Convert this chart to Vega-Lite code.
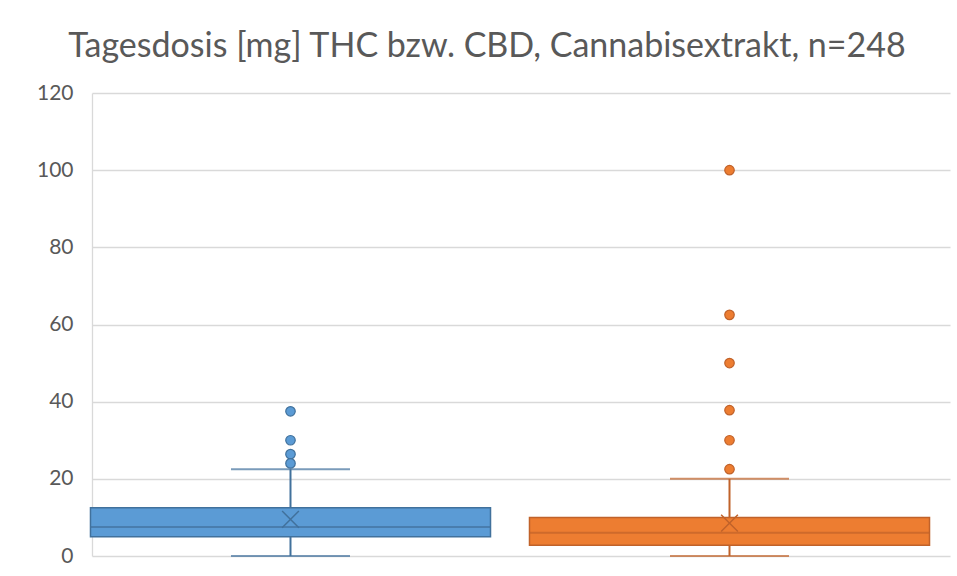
{
  "$schema": "https://vega.github.io/schema/vega-lite/v6.json",
  "width": 858,
  "height": 463,
  "autosize": "none",
  "padding": {"left": 92, "top": 93, "right": 7, "bottom": 20},
  "background": "white",
  "config": {"view": {"stroke": null}, "font": "Lato"},
  "title": {
    "text": "Tagesdosis [mg] THC bzw. CBD, Cannabisextrakt, n=248",
    "font": "Lato",
    "fontSize": 34,
    "fontWeight": "normal",
    "color": "#595959",
    "anchor": "middle",
    "dx": -34,
    "offset": 18
  },
  "datasets": {
    "boxes": [
      {"gruppe": "THC", "min": 0, "q1": 5, "median": 7.5, "q3": 12.5, "max": 22.5, "mittel": 9.5},
      {"gruppe": "CBD", "min": 0, "q1": 2.8, "median": 6, "q3": 10, "max": 20, "mittel": 8.5}
    ],
    "ausreisser": [
      {"gruppe": "THC", "wert": 37.5},
      {"gruppe": "THC", "wert": 30},
      {"gruppe": "THC", "wert": 26.4},
      {"gruppe": "THC", "wert": 24},
      {"gruppe": "CBD", "wert": 100},
      {"gruppe": "CBD", "wert": 62.5},
      {"gruppe": "CBD", "wert": 50},
      {"gruppe": "CBD", "wert": 37.8},
      {"gruppe": "CBD", "wert": 30},
      {"gruppe": "CBD", "wert": 22.5}
    ]
  },
  "resolve": {"scale": {"x": "shared", "y": "shared"}},
  "layer": [
    {
      "data": {"name": "boxes"},
      "mark": {"type": "rule", "strokeWidth": 2, "xOffset": -11},
      "encoding": {
        "x": {"field": "gruppe", "type": "nominal", "axis": null, "sort": ["THC", "CBD"],
              "scale": {"domain": ["THC", "CBD"], "paddingInner": 0.0888, "paddingOuter": 0.0216}},
        "y": {"field": "min", "type": "quantitative",
              "scale": {"domain": [0, 120], "nice": false},
              "axis": {"values": [0, 20, 40, 60, 80, 100, 120], "title": null, "ticks": false,
                       "domain": true, "domainColor": "#d9d9d9", "domainWidth": 1.3,
                       "grid": true, "gridColor": "#d9d9d9", "gridWidth": 1.3,
                       "labelFont": "Lato", "labelFontSize": 21, "labelColor": "#595959",
                       "labelPadding": 19}},
        "y2": {"field": "max"},
        "color": {"field": "gruppe", "type": "nominal", "legend": null,
                  "scale": {"domain": ["THC", "CBD"], "range": ["#41719C", "#C0622A"]}}
      }
    },
    {
      "data": {"name": "boxes"},
      "mark": {"type": "tick", "thickness": 2, "size": 119, "xOffset": -11},
      "encoding": {
        "x": {"field": "gruppe", "type": "nominal"},
        "y": {"field": "max", "type": "quantitative"},
        "color": {"field": "gruppe", "type": "nominal", "legend": null}
      }
    },
    {
      "data": {"name": "boxes"},
      "mark": {"type": "tick", "thickness": 2, "size": 119, "xOffset": -11},
      "encoding": {
        "x": {"field": "gruppe", "type": "nominal"},
        "y": {"field": "min", "type": "quantitative"},
        "color": {"field": "gruppe", "type": "nominal", "legend": null}
      }
    },
    {
      "data": {"name": "boxes"},
      "mark": {"type": "bar", "strokeWidth": 1.5, "xOffset": -11},
      "encoding": {
        "x": {"field": "gruppe", "type": "nominal"},
        "y": {"field": "q1", "type": "quantitative"},
        "y2": {"field": "q3"},
        "fill": {"field": "gruppe", "type": "nominal", "legend": null,
                 "scale": {"domain": ["THC", "CBD"], "range": ["#5B9BD5", "#ED7D31"]}},
        "stroke": {"field": "gruppe", "type": "nominal", "legend": null,
                   "scale": {"domain": ["THC", "CBD"], "range": ["#41719C", "#C0622A"]}}
      }
    },
    {
      "data": {"name": "boxes"},
      "mark": {"type": "tick", "thickness": 2, "size": 400, "xOffset": -11},
      "encoding": {
        "x": {"field": "gruppe", "type": "nominal"},
        "y": {"field": "median", "type": "quantitative"},
        "color": {"field": "gruppe", "type": "nominal", "legend": null}
      }
    },
    {
      "data": {"name": "boxes"},
      "mark": {"type": "point", "shape": "M-1,-1L1,1M-1,1L1,-1", "filled": false, "size": 280, "strokeWidth": 1.5, "opacity": 1, "xOffset": -11},
      "encoding": {
        "x": {"field": "gruppe", "type": "nominal"},
        "y": {"field": "mittel", "type": "quantitative"},
        "color": {"field": "gruppe", "type": "nominal", "legend": null}
      }
    },
    {
      "data": {"name": "ausreisser"},
      "mark": {"type": "point", "shape": "circle", "filled": true, "size": 90, "strokeWidth": 1.2, "opacity": 1, "xOffset": -11},
      "encoding": {
        "x": {"field": "gruppe", "type": "nominal"},
        "y": {"field": "wert", "type": "quantitative"},
        "fill": {"field": "gruppe", "type": "nominal", "legend": null},
        "stroke": {"field": "gruppe", "type": "nominal", "legend": null}
      }
    }
  ]
}
